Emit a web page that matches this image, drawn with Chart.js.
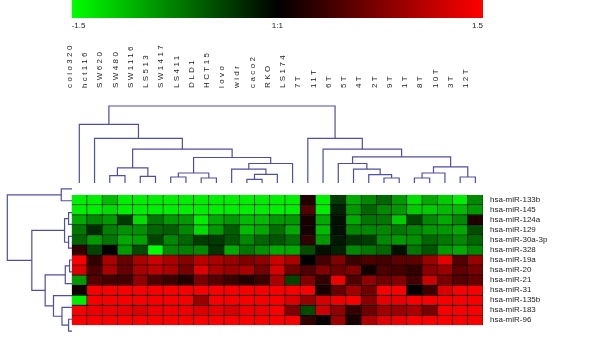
<!DOCTYPE html>
<html>
<head>
<meta charset="utf-8">
<script src="https://cdn.jsdelivr.net/npm/chart.js@4.4.1/dist/chart.umd.min.js"></script>
<style>
  html, body { margin: 0; padding: 0; background: #fff; }
  #wrap { position: relative; width: 600px; height: 355px; overflow: hidden; }
  #wrap canvas { position: absolute; left: 0; }
</style>
</head>
<body>
<div id="wrap">
  <canvas id="scaleBar" width="600" height="32" style="top:0"></canvas>
  <canvas id="colTree" width="600" height="153" style="top:30px"></canvas>
  <canvas id="heat" width="600" height="154" style="top:183px"></canvas>
  <canvas id="rowTree" width="72" height="154" style="top:183px"></canvas>
</div>
<script>
const colLabels = ["colo320", "hct116", "SW620", "SW480", "SW1116", "LS513", "SW1417", "LS411",
    "DLD1", "HCT15", "lovo", "widr", "caco2", "RKO", "LS174",
    "7T", "11T", "6T", "5T", "4T", "2T", "9T", "1T", "8T", "10T", "3T", "12T"];
const rowLabels = ["hsa-miR-133b", "hsa-miR-145", "hsa-miR-124a", "hsa-miR-129", "hsa-miR-30a-3p",
    "hsa-miR-328", "hsa-miR-19a", "hsa-miR-20", "hsa-miR-21", "hsa-miR-31", "hsa-miR-135b",
    "hsa-miR-183", "hsa-miR-96"];

// log ratio per miRNA, same column order as colLabels
const miR133b = [-1.4, -1.4, -1.1, -1.4, -1.4, -1.4, -1.4, -1.4, -1.4, -1.4, -1.4, -1.4, -1.4, -1.4, -1.4, 0.2, -1.4, -0.35, -1.0, -0.8, -0.6, -0.9, -1.3, -1.0, -1.2, -1.4, -0.8];
const miR145 = [-1.4, -1.4, -1.3, -1.4, -1.4, -1.4, -1.4, -1.4, -1.4, -1.4, -1.4, -1.4, -1.4, -1.4, -1.4, 0.5, -1.4, -0.2, -0.9, -0.6, -0.8, -0.9, -1.2, -1.2, -1.1, -1.1, -0.9];
const miR124a = [-1.0, -0.8, -0.9, -0.35, -1.3, -0.7, -0.9, -0.9, -1.4, -1.0, -0.9, -1.1, -1.1, -0.9, -0.9, 0.15, -1.0, -0.1, -1.0, -0.7, -0.7, -1.2, -0.4, -0.8, -1.0, -0.8, 0.2];
const miR129 = [-0.7, -0.25, -0.75, -0.85, -0.85, -0.6, -0.55, -0.8, -1.3, -0.9, -0.55, -1.1, -1.0, -0.65, -1.0, 0.15, -1.1, -0.1, -0.8, -0.8, -0.8, -0.7, -0.8, -0.9, -0.9, -1.0, -0.45];
const miR30a3p = [-0.6, -0.9, -0.7, -1.0, -0.95, -0.4, -0.8, -0.6, -0.35, -0.35, -0.5, -0.8, -0.6, -0.5, -0.65, 0.3, -0.9, -0.15, -0.3, -0.35, -0.8, -0.9, -0.85, -0.6, -0.7, -0.8, -0.6];
const miR328 = [0.3, -0.4, 0.0, -0.9, -0.45, -1.5, -0.8, -0.75, -0.8, -0.3, -1.0, -0.7, -0.85, -1.0, -1.0, -0.45, -0.1, -0.2, -0.8, -0.7, -0.6, -0.1, -0.7, -0.5, -0.9, -1.0, -0.8];
const miR19a = [1.45, 0.3, 1.0, 0.6, 1.0, 1.2, 1.0, 0.8, 1.1, 1.0, 0.9, 0.75, 0.85, 1.2, 1.0, 0.0, 0.4, 0.75, 0.35, 0.45, 0.4, 0.55, 0.55, 0.9, 1.35, 0.5, 0.9];
const miR20 = [1.3, 0.45, 1.0, 0.6, 1.0, 1.1, 1.0, 0.7, 1.3, 1.0, 0.9, 1.0, 0.7, 1.25, 0.65, 0.45, 0.75, 0.65, 0.75, 0.1, 0.45, 0.4, 0.3, 0.8, 0.9, 0.55, 0.7];
const miR21 = [-0.9, 0.5, 0.4, 0.4, 0.85, 0.45, 0.35, 0.2, 0.7, 0.5, 0.35, 0.2, 0.35, 1.0, -0.4, 0.75, 0.3, 1.4, 0.45, 0.85, 0.65, 0.75, 0.4, 1.2, 0.7, 0.5, 0.6];
const miR31 = [0.1, 1.45, 1.45, 1.45, 1.45, 1.45, 1.45, 1.45, 1.45, 1.45, 1.45, 1.45, 1.45, 1.45, 1.45, 1.45, 0.15, 0.6, 0.95, 0.65, 1.45, 1.45, 0.0, 0.35, 1.3, 1.45, 1.45];
const miR135b = [-1.4, 1.45, 1.45, 1.45, 1.45, 1.45, 1.45, 1.45, 0.9, 1.45, 1.45, 1.45, 1.45, 1.45, 1.3, 0.9, 1.25, 1.4, 1.45, 0.8, 1.35, 1.35, 1.45, 1.45, 1.45, 1.45, 1.45];
const miR183 = [1.45, 1.4, 1.4, 1.35, 1.3, 1.4, 1.4, 1.4, 1.3, 1.35, 1.25, 1.4, 1.4, 1.45, 0.75, -0.45, 1.2, 0.85, 0.3, 0.65, 0.95, 0.9, 1.0, 0.7, 1.45, 1.45, 1.45];
const miR96 = [1.45, 1.45, 1.45, 1.45, 1.45, 1.45, 1.45, 1.45, 1.45, 1.45, 1.45, 1.45, 1.45, 1.45, 1.45, 0.3, 0.05, 0.9, 0.15, 1.0, 1.3, 1.35, 1.45, 1.45, 1.45, 1.45, 1.45];
const heatRows = [miR133b, miR145, miR124a, miR129, miR30a3p, miR328, miR19a, miR20, miR21, miR31, miR135b, miR183, miR96];

const scaleTicks = [-1.5, 0, 1.5];
const scaleTickLabels = ["-1.5", "1:1", "1.5"];

// linkage [a, b, height]: ids >= number of leaves point to earlier merges
const colMerges = [
    [11, 12, 0.048], [27, 13, 0.113], [10, 28, 0.179], [29, 14, 0.253],
    [6, 7, 0.078], [8, 9, 0.065], [31, 32, 0.130], [33, 30, 0.331],
    [2, 3, 0.096], [4, 5, 0.087], [35, 36, 0.196], [37, 34, 0.439],
    [1, 38, 0.579], [0, 39, 0.761],
    [20, 21, 0.065], [19, 41, 0.110], [18, 42, 0.179], [17, 43, 0.253],
    [22, 23, 0.065], [45, 24, 0.130], [25, 26, 0.078], [46, 47, 0.209],
    [44, 48, 0.339], [16, 49, 0.439], [15, 50, 0.579], [40, 51, 1.0]
];
const rowMerges = [
    [0, 1, 0.166], [2, 3, 0.053], [4, 5, 0.053], [14, 15, 0.115],
    [6, 7, 0.037], [17, 8, 0.104], [11, 12, 0.053], [10, 19, 0.155],
    [9, 20, 0.286], [18, 21, 0.415], [16, 22, 0.621], [13, 23, 1.0]
];

const treeColor = "#4f4f9f";
const textColor = "#222";
const font = "'Liberation Sans', Arial, sans-serif";

function heatColor(v) {
    const c = Math.round(255 * Math.min(Math.abs(v) / 1.5, 1));
    return v < 0 ? `rgb(0,${c},0)` : `rgb(${c},0,0)`;
}

function treeSegments(merges, n) {
    const pos = [], hgt = [];
    for (let i = 0; i < n; i++) { pos.push(i + 0.5); hgt.push(0); }
    return merges.map(([a, b, h]) => {
        const seg = [[pos[a], hgt[a]], [pos[a], h], [pos[b], h], [pos[b], hgt[b]]];
        pos.push((pos[a] + pos[b]) / 2);
        hgt.push(h);
        return seg;
    });
}

function lineSet(points) {
    return {
        data: points, showLine: true, pointRadius: 0, borderColor: treeColor,
        borderWidth: 1.2, tension: 0, clip: false
    };
}

const noPlugins = { legend: { display: false }, tooltip: { enabled: false } };

// colour scale bar
new Chart(document.getElementById("scaleBar"), {
    type: "bar",
    data: {
        labels: [""],
        datasets: [{
            data: [[scaleTicks[0], scaleTicks[2]]],
            borderWidth: 0,
            barPercentage: 1,
            categoryPercentage: 1,
            backgroundColor: (c) => {
                const x = c.chart.scales.x;
                const x0 = x ? x.getPixelForValue(scaleTicks[0]) : NaN;
                const x1 = x ? x.getPixelForValue(scaleTicks[2]) : NaN;
                if (!isFinite(x0) || !isFinite(x1)) return "#000";
                const g = c.chart.ctx.createLinearGradient(x0, 0, x1, 0);
                g.addColorStop(0, heatColor(scaleTicks[0]));
                g.addColorStop(0.5, heatColor(scaleTicks[1]));
                g.addColorStop(1, heatColor(scaleTicks[2]));
                return g;
            }
        }]
    },
    options: {
        indexAxis: "y",
        responsive: false,
        animation: false,
        layout: { padding: { left: 71.7, right: 117 } },
        plugins: noPlugins,
        scales: {
            x: {
                type: "linear", min: scaleTicks[0], max: scaleTicks[2],
                afterBuildTicks: (s) => { s.ticks = scaleTicks.map((v) => ({ value: v })); },
                afterFit: (s) => { s.height = 14; },
                grid: { display: false, drawTicks: false },
                border: { display: false },
                ticks: {
                    align: "inner", padding: 3, color: textColor,
                    font: { family: font, size: 8 },
                    callback: (v, i) => scaleTickLabels[i]
                }
            },
            y: { display: false }
        }
    }
});

// sample dendrogram with column labels on top
new Chart(document.getElementById("colTree"), {
    type: "scatter",
    data: {
        datasets: treeSegments(colMerges, colLabels.length).map((s) => lineSet(s.map(([p, h]) => ({ x: p, y: h }))))
    },
    options: {
        responsive: false,
        animation: false,
        layout: { padding: { left: 71.7, right: 117 } },
        plugins: noPlugins,
        scales: {
            x: {
                type: "linear", position: "top", min: 0, max: colLabels.length,
                afterBuildTicks: (s) => { s.ticks = colLabels.map((_, i) => ({ value: i + 0.5 })); },
                afterFit: (s) => { s.height = 59; },
                grid: { display: false, drawTicks: false },
                border: { display: false },
                ticks: {
                    autoSkip: false, minRotation: 90, maxRotation: 90, padding: 1,
                    color: textColor, font: { family: font, size: 8 },
                    callback: (v, i) => colLabels[i]
                }
            },
            y: { display: false, min: 0, max: 1.221 }
        }
    },
    plugins: [{
        id: "spacing",
        beforeDraw: (chart) => { chart.ctx.letterSpacing = "2.4px"; }
    }]
});

// heat map with miRNA names on the right
new Chart(document.getElementById("heat"), {
    type: "bar",
    data: {
        datasets: heatRows.map((vals, r) => ({
            data: vals.map((v, c) => ({ x: c + 0.5, y: [r, r + 1] })),
            backgroundColor: vals.map(heatColor),
            borderColor: "#000",
            borderWidth: 0.6,
            borderSkipped: false,
            grouped: false,
            barPercentage: 1,
            categoryPercentage: 1
        }))
    },
    options: {
        responsive: false,
        animation: false,
        layout: { padding: { left: 71.7 } },
        plugins: noPlugins,
        scales: {
            x: { type: "linear", display: false, offset: false, min: 0, max: colLabels.length },
            y: {
                type: "linear", position: "right", reverse: true, min: 0, max: rowLabels.length,
                afterBuildTicks: (s) => { s.ticks = rowLabels.map((_, i) => ({ value: i + 0.5 })); },
                afterFit: (s) => { s.width = 117; },
                grid: { display: false, drawTicks: false },
                border: { display: false },
                ticks: {
                    autoSkip: false, padding: 7, color: textColor,
                    font: { family: font, size: 8 },
                    callback: (v, i) => rowLabels[i]
                }
            }
        }
    }
});

// miRNA dendrogram on the left
new Chart(document.getElementById("rowTree"), {
    type: "scatter",
    data: {
        datasets: treeSegments(rowMerges, rowLabels.length).map((s) => lineSet(s.map(([p, h]) => ({ x: h, y: p }))))
    },
    options: {
        responsive: false,
        animation: false,
        plugins: noPlugins,
        scales: {
            x: { display: false, reverse: true, min: 0, max: 1.113 },
            y: { display: false, reverse: true, min: 0, max: rowLabels.length }
        }
    }
});
</script>
</body>
</html>
